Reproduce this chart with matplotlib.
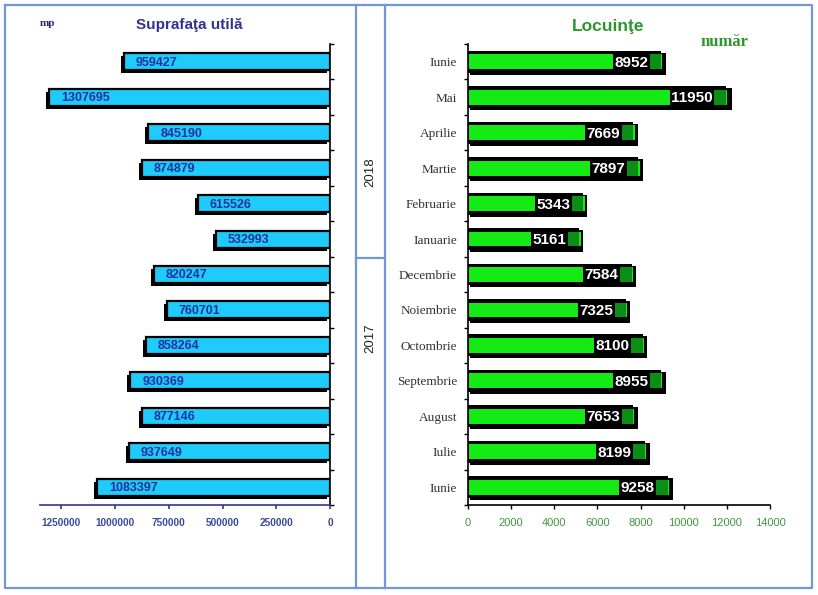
import matplotlib.pyplot as plt
from matplotlib.transforms import offset_copy
from matplotlib.ticker import FixedFormatter
from matplotlib.lines import Line2D
import numpy as np

# data, top to bottom
luni = ['Iunie', 'Mai', 'Aprilie', 'Martie', 'Februarie', 'Ianuarie',
        'Decembrie', 'Noiembrie', 'Octombrie', 'Septembrie', 'August', 'Iulie', 'Iunie']
suprafata = [959427, 1307695, 845190, 874879, 615526, 532993,
             820247, 760701, 858264, 930369, 877146, 937649, 1083397]
locuinte = [8952, 11950, 7669, 7897, 5343, 5161,
            7584, 7325, 8100, 8955, 7653, 8199, 9258]
ani = ['2018', '2017']
ticks_l = [1250000, 1000000, 750000, 500000, 250000, 0]
ticks_r = [0, 2000, 4000, 6000, 8000, 10000, 12000, 14000]

W, H = 818, 595
fig = plt.figure(figsize=(W / 100, H / 100), dpi=100)

n = len(luni)
y = np.arange(n)[::-1]

# ---- left panel: Suprafata utila
axl = fig.add_axes([40 / W, 1 - 505 / H, 290 / W, 461 / H])
shadow = offset_copy(axl.transData, fig=fig, x=-3, y=-3, units='dots')
axl.barh(y, suprafata, height=0.48, color='black', transform=shadow, zorder=2)
axl.barh(y, suprafata, height=0.48, color='#1ECBFA', edgecolor='black',
         linewidth=1.6, zorder=3)
for yi, v in zip(y, suprafata):
    axl.annotate(str(v), (v, yi), xytext=(12, -1), textcoords='offset pixels',
                 ha='left', va='center', fontsize=9, fontweight='bold',
                 color='#22319A', family='Liberation Sans', zorder=4)
axl.set_xlim(1350000, 0)
axl.set_ylim(-0.5, n - 0.5)
axl.set_xticks(ticks_l)
axl.xaxis.set_major_formatter(FixedFormatter([str(t) for t in ticks_l]))
axl.tick_params(axis='x', labelsize=7.2, labelcolor='#3A4A9A', color='#333399',
                length=3, width=1.2, pad=6)
for lab in axl.get_xticklabels():
    lab.set_family('Liberation Sans')
    lab.set_fontweight('bold')
axl.yaxis.tick_right()
axl.set_yticks(np.arange(-0.5, n, 1))
axl.set_yticklabels([])
axl.tick_params(axis='y', length=3, width=1, color='black')
for s in ['top', 'left']:
    axl.spines[s].set_visible(False)
axl.spines['bottom'].set_color('#333399')
axl.spines['bottom'].set_linewidth(1.2)
axl.spines['right'].set_color('black')
axl.spines['right'].set_linewidth(1.2)

# ---- right panel: Locuinte
axr = fig.add_axes([468 / W, 1 - 505 / H, 302 / W, 461 / H])
shadow_r = offset_copy(axr.transData, fig=fig, x=2, y=-2, units='dots')
axr.barh(y, [v * 1.015 for v in locuinte], height=0.62, color='black',
         transform=shadow_r, zorder=2)
axr.barh(y, locuinte, height=0.62, color='black', zorder=2)
axr.barh(y, locuinte, height=0.42, left=60, color='#14EA14', zorder=3)
seg = 600
axr.barh(y, seg, height=0.42, left=[v - seg for v in locuinte],
         color='#0B8E16', zorder=4)
for yi, v in zip(y, locuinte):
    axr.annotate(str(v), (v - seg, yi), xytext=(0, -1), textcoords='offset pixels',
                 ha='right', va='center', fontsize=11, fontweight='bold',
                 color='white', family='Liberation Sans', zorder=5,
                 bbox=dict(boxstyle='square,pad=0.1', fc='black', ec='none'))
axr.set_xlim(0, 14000)
axr.set_ylim(-0.5, n - 0.5)
axr.set_xticks(ticks_r)
axr.tick_params(axis='x', labelsize=8, labelcolor='#3C9A3C', color='black',
                length=3, width=1, pad=6)
for lab in axr.get_xticklabels():
    lab.set_family('Liberation Sans')
axr.set_yticks(np.arange(-0.5, n, 1))
axr.set_yticklabels([])
axr.set_yticks(y, minor=True)
axr.set_yticklabels(luni, minor=True, fontsize=9.5, family='Liberation Serif',
                    color='#333333')
axr.tick_params(axis='y', which='major', length=3, width=1, color='black')
axr.tick_params(axis='y', which='minor', length=0, pad=8)
for s in ['top', 'right']:
    axr.spines[s].set_visible(False)
axr.spines['left'].set_linewidth(1.2)
axr.spines['bottom'].set_linewidth(1.2)

# ---- titles
fig.text(189 / W, 1 - 25 / H, 'Suprafaţa utilă', ha='center', va='center',
         fontsize=11, fontweight='bold', color='#33338F', family='Liberation Sans')
fig.text(47 / W, 1 - 24 / H, 'mp', ha='center', va='center', fontsize=8,
         fontweight='bold', color='#1F2A80', family='Liberation Serif')
fig.text(608 / W, 1 - 27 / H, 'Locuinţe', ha='center', va='center',
         fontsize=12.5, fontweight='bold', color='#2E962E', family='Liberation Sans')
fig.text(724 / W, 1 - 42 / H, 'număr', ha='center', va='center', fontsize=12,
         fontweight='bold', color='#2E962E', family='Liberation Serif')

# ---- year labels in middle strip
fig.text(370 / W, 1 - 172 / H, ani[0], rotation=90, ha='center', va='center',
         fontsize=9.5, color='#222222', family='Liberation Sans')
fig.text(370 / W, 1 - 338 / H, ani[1], rotation=90, ha='center', va='center',
         fontsize=9.5, color='#222222', family='Liberation Sans')

# ---- frame lines
fc = '#7196DB'
def fline(xs, ys):
    fig.add_artist(Line2D([x / W for x in xs], [1 - v / H for v in ys],
                          color=fc, linewidth=1.6))

fline([5, 812, 812, 5, 5], [5, 5, 588, 588, 5])
fline([356, 356], [5, 588])
fline([385, 385], [5, 588])
fline([356, 385], [258, 258])

fig.savefig('out.png', dpi=100)
